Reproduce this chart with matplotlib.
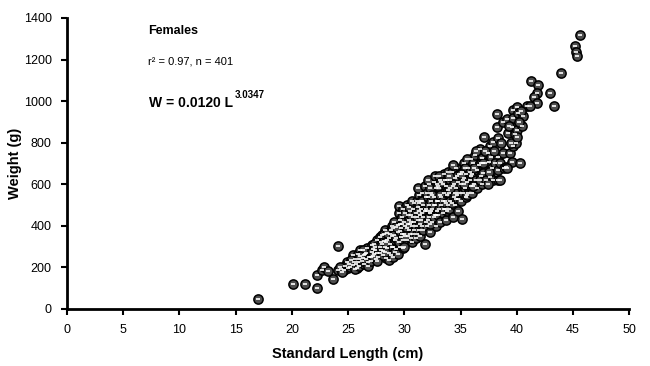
import matplotlib
matplotlib.use("Agg")
import matplotlib.pyplot as plt
from matplotlib.transforms import offset_copy

plt.rcParams['font.family'] = ['Liberation Sans', 'DejaVu Sans']

# standard length (cm) and weight (g)
length_cm = [
    17.0, 20.1, 21.2, 22.2, 22.2, 22.7, 22.9, 23.7, 23.2, 24.1,
    24.1, 24.4, 24.6, 24.9, 25.0, 24.7, 24.3, 24.5,
    25.2, 25.4, 25.4, 25.6, 25.8, 25.9, 25.5, 25.3, 25.7, 25.9, 25.1, 25.6,
    26.0, 26.1, 26.3, 26.4, 26.5, 26.6, 26.7, 26.8, 26.2, 26.9, 26.0, 26.4, 26.6, 26.3, 26.8, 26.1,
    27.0, 27.0, 27.1, 27.3, 27.4, 27.6, 27.6, 27.8, 27.8, 27.2, 27.5, 27.9, 27.3, 27.7, 27.1, 27.4,
    27.9, 27.6, 27.2, 27.8,
    28.0, 28.0, 28.2, 28.3, 28.4, 28.5, 28.6, 28.7, 28.8, 28.9, 28.1, 28.3, 28.5, 28.6, 28.8, 28.9,
    28.2, 28.4, 28.7, 28.1, 28.5, 28.9, 28.6, 28.3,
    29.0, 29.0, 29.0, 29.2, 29.3, 29.4, 29.4, 29.5, 29.5, 29.6, 29.6, 29.6, 29.7, 29.8, 29.9, 29.1,
    29.2, 29.3, 29.5, 29.7, 29.8, 29.9, 29.1, 29.4, 29.6, 29.8, 29.9, 29.3,
    30.0, 30.0, 30.1, 30.2, 30.3, 30.4, 30.5, 30.6, 30.7, 30.8, 30.0, 30.1, 30.2, 30.3, 30.4, 30.5,
    30.6, 30.7, 30.8, 30.9, 30.9, 30.2, 30.5, 30.8, 30.1, 30.4, 30.6, 30.3, 30.7, 30.9,
    31.0, 31.0, 31.1, 31.1, 31.2, 31.2, 31.3, 31.3, 31.4, 31.4, 31.5, 31.5, 31.6, 31.6, 31.7, 31.7,
    31.8, 31.8, 31.9, 31.9, 31.0, 31.2, 31.4, 31.6, 31.8, 31.1, 31.3, 31.5, 31.7, 31.9, 31.3, 31.6,
    32.0, 32.0, 32.1, 32.1, 32.2, 32.2, 32.3, 32.3, 32.4, 32.4, 32.5, 32.5, 32.6, 32.6, 32.7, 32.7,
    32.8, 32.8, 32.9, 32.9, 32.0, 32.2, 32.4, 32.6, 32.8, 32.1, 32.3, 32.5, 32.7, 32.9, 32.3, 32.6,
    33.0, 33.0, 33.1, 33.1, 33.2, 33.2, 33.3, 33.3, 33.4, 33.4, 33.5, 33.5, 33.6, 33.6, 33.7, 33.7,
    33.8, 33.8, 33.9, 33.9, 33.0, 33.2, 33.4, 33.6, 33.8, 33.1, 33.3, 33.5, 33.7, 33.9,
    34.0, 34.0, 34.1, 34.1, 34.2, 34.3, 34.3, 34.4, 34.5, 34.5, 34.6, 34.6, 34.7, 34.8, 34.8, 34.9,
    34.9, 34.2, 34.4, 34.6, 34.7, 34.0, 34.3, 34.8, 34.5, 34.1,
    35.0, 35.0, 35.1, 35.1, 35.2, 35.3, 35.3, 35.4, 35.5, 35.5, 35.6, 35.7, 35.7, 35.8, 35.9, 35.9,
    35.2, 35.4, 35.6, 35.8, 35.0, 35.9, 35.6, 35.3,
    36.0, 36.0, 36.1, 36.2, 36.3, 36.4, 36.5, 36.5, 36.7, 36.6, 36.8, 36.9, 36.9, 36.2, 36.4, 36.7,
    36.1, 36.8,
    37.0, 37.1, 37.2, 37.4, 37.5, 37.6, 37.6, 37.3, 37.8, 37.9, 37.9, 37.5, 37.2, 37.7, 37.4, 37.0,
    38.2, 38.2, 38.3, 38.3, 38.1, 38.3, 38.3, 38.5, 38.8, 38.8, 38.5, 38.9, 38.6, 38.0,
    39.1, 39.0, 39.2, 39.4, 39.6, 39.6, 39.7, 39.7, 39.7, 39.9, 39.1, 39.5, 39.3, 39.8,
    40.0, 40.0, 40.0, 40.1, 40.6, 40.3, 40.9, 40.5, 40.2, 40.4,
    41.3, 41.9, 41.8, 41.5, 41.8, 41.2, 43.0, 43.3, 43.9, 45.2, 45.3, 45.4, 45.6,
]

weight_g = [
    50, 122, 118, 101, 162, 188, 200, 144, 182, 305,
    188, 190, 186, 225, 195, 205, 200, 178,
    200, 210, 258, 240, 198, 225, 225, 235, 215, 265, 215, 190,
    205, 282, 245, 215, 265, 270, 293, 226, 230, 250, 240, 260, 240, 285, 205, 255,
    250, 230, 308, 265, 284, 270, 332, 300, 269, 290, 240, 320, 310, 250, 275, 300,
    285, 230, 255, 345,
    356, 310, 325, 380, 245, 293, 342, 310, 260, 350, 280, 300, 330, 270, 380, 300,
    360, 320, 360, 260, 365, 400, 235, 275,
    300, 390, 250, 330, 290, 370, 405, 460, 495, 430, 410, 300, 345, 440, 480, 355,
    275, 340, 320, 390, 360, 330, 420, 265, 375, 410, 295, 395,
    360, 420, 400, 330, 450, 380, 360, 420, 320, 480, 300, 460, 390, 350, 430, 470,
    340, 400, 440, 380, 510, 500, 410, 360, 350, 490, 450, 410, 520, 420,
    400, 460, 360, 520, 430, 490, 380, 550, 450, 410, 480, 520, 400, 560, 440, 500,
    310, 470, 540, 420, 340, 580, 350, 460, 590, 440, 470, 430, 380, 480, 510, 520,
    400, 470, 540, 430, 500, 600, 370, 460, 520, 560, 420, 480, 540, 610, 450, 500,
    580, 400, 520, 470, 560, 440, 470, 500, 450, 620, 580, 550, 640, 600, 410, 440,
    450, 520, 580, 480, 620, 420, 540, 500, 600, 460, 560, 650, 520, 480, 590, 430,
    620, 550, 500, 660, 590, 550, 520, 620, 470, 640, 610, 480, 510, 570,
    480, 560, 620, 520, 660, 440, 590, 540, 630, 500, 580, 680, 550, 610, 470, 650,
    560, 510, 600, 530, 640, 640, 690, 530, 560, 580,
    520, 600, 433, 660, 560, 630, 700, 580, 540, 650, 610, 680, 560, 620, 720, 590,
    620, 680, 550, 660, 650, 640, 720, 600,
    560, 650, 700, 600, 740, 620, 669, 580, 770, 690, 640, 726, 600, 680, 760, 620,
    590, 700,
    654, 827, 700, 750, 707, 784, 635, 620, 680, 803, 620, 660, 760, 730, 600, 700,
    938, 875, 822, 731, 702, 669, 620, 620, 900, 750, 700, 680, 800, 760,
    914, 683, 847, 750, 875, 707, 957, 919, 784, 798, 678, 800, 880, 840,
    971, 861, 827, 943, 928, 700, 976, 880, 900, 950,
    1097, 1077, 1039, 1020, 991, 976, 1039, 976, 1135, 1265, 1236, 1217, 1318,
]

x_ticks = list(range(0, 51, 5))
y_ticks = list(range(0, 1401, 200))

fig = plt.figure(figsize=(6.5, 3.66), dpi=100)
ax = fig.add_axes([0.103, 0.156, 0.865, 0.795])

ax.scatter(length_cm, weight_g, s=44, facecolor='#4d4d4d', edgecolor='black',
           linewidth=1.1, zorder=3)
# white highlight inside each marker
ax.scatter(length_cm, weight_g, s=10, marker='_', color='white', linewidth=1.2, zorder=4)

ax.set_xlim(0, 50)
ax.set_ylim(0, 1400)
ax.set_xticks(x_ticks)
ax.set_yticks(y_ticks)
ax.tick_params(direction='out', length=4, width=1.5, labelsize=9, pad=7)
for side in ['top', 'right']:
    ax.spines[side].set_visible(False)
for side in ['left', 'bottom']:
    ax.spines[side].set_linewidth(2)

ax.set_xlabel("Standard Length (cm)", fontsize=10.5, fontweight='bold', labelpad=8)
ax.set_ylabel("Weight (g)", fontsize=10.5, fontweight='bold', labelpad=1)

ax.text(7.2, 1337, "Females", fontsize=9, fontweight='bold', va='center')
ax.text(7.2, 1188, "r² = 0.97, n = 401", fontsize=8, va='center')
eq = ax.text(7.3, 990, "W = 0.0120 L", fontsize=10, fontweight='bold', va='center')
fig.canvas.draw()
w = eq.get_window_extent().width * 72 / fig.dpi
sup_tr = offset_copy(ax.transData, fig=fig, x=w + 1, y=6, units='points')
ax.text(7.3, 990, "3.0347", fontsize=7, fontweight='bold', va='center', transform=sup_tr)

fig.savefig("out.png", dpi=100)
